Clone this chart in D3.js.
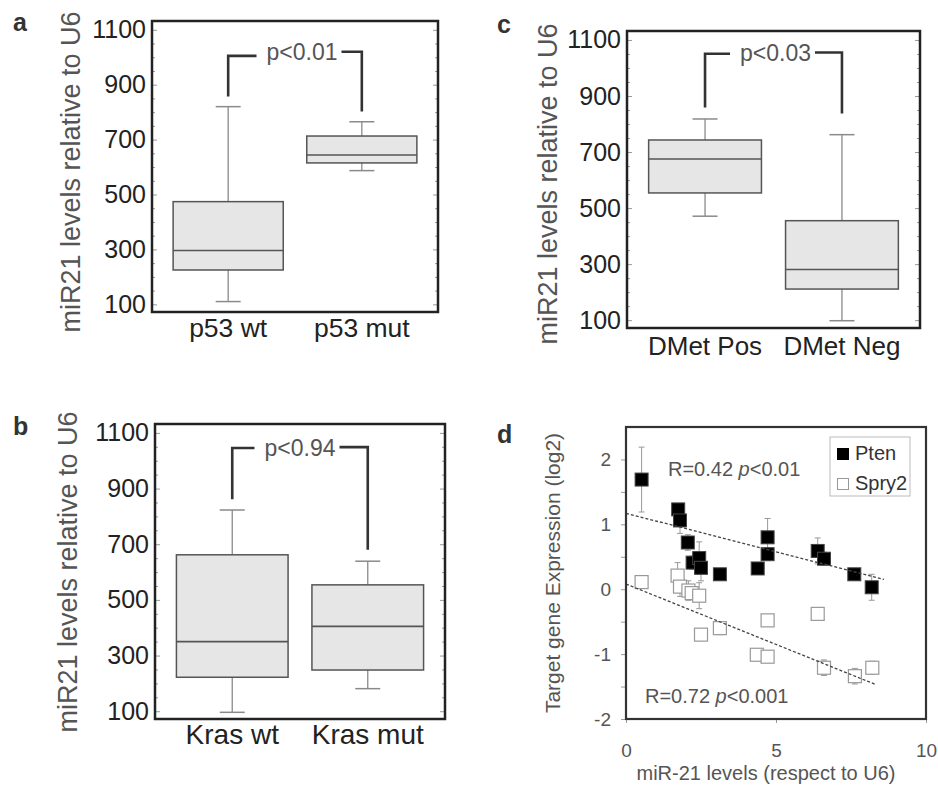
<!DOCTYPE html>
<html lang="en">
<head>
<meta charset="utf-8">
<title>miR21 panels</title>
<script src="https://cdnjs.cloudflare.com/ajax/libs/d3/7.8.5/d3.min.js"></script>
<style>
  body { margin: 0; background: #fff; }
  svg { display: block; font-family: "Liberation Sans", Arial, sans-serif; }
  .panel-letter { font-weight: bold; font-size: 25px; fill: #333; }
  .ylab { fill: #555; font-size: 27px; }
  .cat { fill: #222; }
  .pval { fill: #555; font-size: 23px; }
  .tick text { fill: #222; font-size: 25px; }
</style>
</head>
<body>
<svg id="chart" width="938" height="787"></svg>
<script>
// box data: [min, q1, median, q3, max]
var catsA = ["p53 wt", "p53 mut"];
var boxA = [[110, 225, 296, 474, 820], [587, 615, 644, 713, 765]];
var bracketA = [1005, 857, 1020, 802]; // left top, left bottom, right top, right bottom
var pA = "p<0.01";

var catsB = ["Kras wt", "Kras mut"];
var boxB = [[96, 222, 350, 662, 823], [181, 248, 405, 554, 639]];
var bracketB = [1046, 862, 1049, 680];
var pB = "p<0.94";

var catsC = ["DMet Pos", "DMet Neg"];
var boxC = [[471, 554, 675, 743, 818], [98, 211, 281, 455, 762]];
var bracketC = [1051, 859, 1055, 838];
var pC = "p<0.03";

var majorTicks = [100, 300, 500, 700, 900, 1100];
var minorTicks = d3.range(150, 1100, 50).filter(function(v) { return (v - 100) % 200 != 0; });

// panel d
var ptenX = [0.52, 1.74, 1.8, 2.06, 2.22, 2.44, 2.5, 3.13, 4.39, 4.72, 4.72, 6.39, 6.6, 7.61, 8.19];
var ptenY = [1.69, 1.23, 1.06, 0.72, 0.41, 0.48, 0.33, 0.23, 0.32, 0.80, 0.54, 0.59, 0.47, 0.23, 0.03];
var ptenErr = [0.5, 0.08, 0.2, 0.12, 0.1, 0.25, 0.2, 0.05, 0.05, 0.29, 0.1, 0.2, 0.1, 0.08, 0.2];
var spryX = [0.52, 1.72, 1.8, 2.08, 2.19, 2.44, 2.5, 3.13, 4.36, 4.72, 4.72, 6.39, 6.6, 7.63, 8.21];
var spryY = [0.11, 0.21, 0.04, -0.02, -0.06, -0.10, -0.70, -0.60, -1.01, -1.04, -0.48, -0.38, -1.21, -1.34, -1.21];
var spryErr = [0.05, 0.2, 0.15, 0.15, 0.1, 0.2, 0.05, 0.1, 0.05, 0.05, 0.05, 0.05, 0.12, 0.12, 0.1];
var ptenFit = [[0, 1.17], [8.6, 0.15]];
var spryFit = [[0, 0.08], [8.33, -1.47]];
var dTicksY = d3.range(-2, 2.01, 0.5);
var dTicksX = [0, 5, 10];

var svg = d3.select("#chart");

drawBoxPanel({letter: "a", lx: 13, ly: 31, x0: 152, x1: 438, y0: 21, y1: 312,
  cats: catsA, boxes: boxA, bracket: bracketA, p: pA, textDx: 7,
  catSize: 26.5, catY: 337, ylabX: 80, ylabY: 172});
drawBoxPanel({letter: "b", lx: 13, ly: 435, x0: 155, x1: 445, y0: 424, y1: 719,
  cats: catsB, boxes: boxB, bracket: bracketB, p: pB, textDx: 0,
  catSize: 28, catY: 744, ylabX: 77, ylabY: 572});
drawBoxPanel({letter: "c", lx: 497, ly: 33, x0: 627, x1: 920, y0: 31, y1: 328,
  cats: catsC, boxes: boxC, bracket: bracketC, p: pC, textDx: 2,
  catSize: 26, catY: 355, ylabX: 557, ylabY: 184});
drawScatter();

function drawBoxPanel(c) {
  var g = svg.append("g");
  var y = d3.scaleLinear().domain([72, 1132]).range([c.y1, c.y0]);
  var x = d3.scalePoint().domain(c.cats).range([c.x0, c.x1]).padding(0.57);
  var bw = (c.x1 - c.x0) * 0.385;
  var cap = 25;

  // ticks inside the frame, both sides
  g.append("g").attr("transform", "translate(" + c.x0 + ",0)")
    .call(d3.axisLeft(y).tickValues(majorTicks).tickSize(-5).tickPadding(6).tickFormat(d3.format("d")))
    .call(styleAxis);
  g.append("g").attr("transform", "translate(" + c.x0 + ",0)")
    .call(d3.axisLeft(y).tickValues(minorTicks).tickSize(-3).tickFormat(""))
    .call(styleAxis);
  g.append("g").attr("transform", "translate(" + c.x1 + ",0)")
    .call(d3.axisRight(y).tickValues(majorTicks).tickSize(-5).tickFormat(""))
    .call(styleAxis);
  g.append("g").attr("transform", "translate(" + c.x1 + ",0)")
    .call(d3.axisRight(y).tickValues(minorTicks).tickSize(-3).tickFormat(""))
    .call(styleAxis);

  var b = g.selectAll(".box").data(c.boxes).enter().append("g").attr("class", "box");
  b.append("line")
    .attr("x1", function(d, i) { return x(c.cats[i]); })
    .attr("x2", function(d, i) { return x(c.cats[i]); })
    .attr("y1", function(d) { return y(d[4]); })
    .attr("y2", function(d) { return y(d[0]); })
    .attr("stroke", "#8a8a8a").attr("stroke-width", 1.3);
  [0, 4].forEach(function(k) {
    b.append("line")
      .attr("x1", function(d, i) { return x(c.cats[i]) - cap / 2; })
      .attr("x2", function(d, i) { return x(c.cats[i]) + cap / 2; })
      .attr("y1", function(d) { return y(d[k]); })
      .attr("y2", function(d) { return y(d[k]); })
      .attr("stroke", "#8a8a8a").attr("stroke-width", 1.5);
  });
  b.append("rect")
    .attr("x", function(d, i) { return x(c.cats[i]) - bw / 2; })
    .attr("y", function(d) { return y(d[3]); })
    .attr("width", bw)
    .attr("height", function(d) { return y(d[1]) - y(d[3]); })
    .attr("fill", "#e6e6e6").attr("stroke", "#555").attr("stroke-width", 1.5);
  b.append("line")
    .attr("x1", function(d, i) { return x(c.cats[i]) - bw / 2; })
    .attr("x2", function(d, i) { return x(c.cats[i]) + bw / 2; })
    .attr("y1", function(d) { return y(d[2]); })
    .attr("y2", function(d) { return y(d[2]); })
    .attr("stroke", "#555").attr("stroke-width", 1.6);

  g.append("rect")
    .attr("x", c.x0).attr("y", c.y0)
    .attr("width", c.x1 - c.x0).attr("height", c.y1 - c.y0)
    .attr("fill", "none").attr("stroke", "#222").attr("stroke-width", 2.5);

  // significance bracket
  var xl = x(c.cats[0]), xr = x(c.cats[1]);
  var t = g.append("text").attr("class", "pval")
    .attr("x", (xl + xr) / 2 + c.textDx)
    .attr("y", y(Math.max(c.bracket[0], c.bracket[2])) + 8.5)
    .attr("text-anchor", "middle")
    .text(c.p);
  var tw = t.node().getComputedTextLength();
  var tx = (xl + xr) / 2 + c.textDx;
  var br = d3.path();
  br.moveTo(xl, y(c.bracket[1]));
  br.lineTo(xl, y(c.bracket[0]));
  br.lineTo(tx - tw / 2 - 10, y(c.bracket[0]));
  br.moveTo(tx + tw / 2 + 4, y(c.bracket[2]));
  br.lineTo(xr, y(c.bracket[2]));
  br.lineTo(xr, y(c.bracket[3]));
  g.append("path").attr("d", br.toString())
    .attr("fill", "none").attr("stroke", "#333").attr("stroke-width", 2.6);

  g.selectAll(".cat").data(c.cats).enter().append("text")
    .attr("class", "cat")
    .attr("x", function(d) { return x(d); })
    .attr("y", c.catY)
    .attr("text-anchor", "middle")
    .attr("font-size", c.catSize)
    .text(function(d) { return d; });

  g.append("text").attr("class", "ylab")
    .attr("transform", "translate(" + c.ylabX + "," + c.ylabY + ") rotate(-90)")
    .attr("text-anchor", "middle")
    .text("miR21 levels relative to U6");

  g.append("text").attr("class", "panel-letter")
    .attr("x", c.lx).attr("y", c.ly).text(c.letter);
}

function styleAxis(sel) {
  sel.select(".domain").remove();
  sel.selectAll(".tick line").attr("stroke", "#999");
  sel.attr("font-family", null).attr("font-size", null);
}

function drawScatter() {
  var g = svg.append("g").attr("class", "dpanel");
  var x = d3.scaleLinear().domain([0, 10]).range([626, 926]);
  var y = d3.scaleLinear().domain([-2, 2.5]).range([719, 427]);
  var s = 13;

  g.append("g").attr("transform", "translate(626,0)")
    .call(d3.axisLeft(y).tickValues(dTicksY).tickSize(5).tickPadding(10)
      .tickFormat(function(v) { return Number.isInteger(v) ? v : ""; }))
    .call(styleAxis);
  g.append("g").attr("transform", "translate(0,719)")
    .call(d3.axisBottom(x).tickValues(dTicksX).tickSize(4).tickPadding(21))
    .call(styleAxis);
  g.selectAll(".tick text").style("font-size", "19px").style("fill", "#555");

  var pten = ptenX.map(function(v, i) { return {x: v, y: ptenY[i], e: ptenErr[i]}; });
  var spry = spryX.map(function(v, i) { return {x: v, y: spryY[i], e: spryErr[i]}; });

  [spry, pten].forEach(function(set) {
    var eb = g.append("g").selectAll("g").data(set).enter().append("g");
    eb.append("line")
      .attr("x1", function(d) { return x(d.x); }).attr("x2", function(d) { return x(d.x); })
      .attr("y1", function(d) { return y(d.y + d.e); }).attr("y2", function(d) { return y(d.y - d.e); })
      .attr("stroke", "#999").attr("stroke-width", 1);
    [1, -1].forEach(function(sg) {
      eb.append("line")
        .attr("x1", function(d) { return x(d.x) - 3; }).attr("x2", function(d) { return x(d.x) + 3; })
        .attr("y1", function(d) { return y(d.y + sg * d.e); }).attr("y2", function(d) { return y(d.y + sg * d.e); })
        .attr("stroke", "#999").attr("stroke-width", 1);
    });
  });

  g.append("g").selectAll("rect").data(spry).enter().append("rect")
    .attr("x", function(d) { return x(d.x) - s / 2; })
    .attr("y", function(d) { return y(d.y) - s / 2; })
    .attr("width", s).attr("height", s)
    .attr("fill", "#fff").attr("stroke", "#999").attr("stroke-width", 1.2);
  g.append("g").selectAll("rect").data(pten).enter().append("rect")
    .attr("x", function(d) { return x(d.x) - s / 2; })
    .attr("y", function(d) { return y(d.y) - s / 2; })
    .attr("width", s).attr("height", s)
    .attr("fill", "#000").attr("stroke", "#444").attr("stroke-width", 1);

  var line = d3.line().x(function(d) { return x(d[0]); }).y(function(d) { return y(d[1]); });
  [ptenFit, spryFit].forEach(function(f) {
    g.append("path").attr("d", line(f))
      .attr("fill", "none").attr("stroke", "#444").attr("stroke-width", 1.3)
      .attr("stroke-dasharray", "3,2");
  });

  g.append("rect")
    .attr("x", 626).attr("y", 427).attr("width", 300).attr("height", 292)
    .attr("fill", "none").attr("stroke", "#333").attr("stroke-width", 2.2);

  // legend
  var lg = g.append("g").attr("transform", "translate(830,437)");
  lg.append("rect").attr("width", 80).attr("height", 59)
    .attr("fill", "#fff").attr("stroke", "#bbb").attr("stroke-width", 1);
  lg.append("rect").attr("x", 7).attr("y", 11).attr("width", 12).attr("height", 12).attr("fill", "#000");
  lg.append("rect").attr("x", 7.5).attr("y", 41.5).attr("width", 11).attr("height", 11)
    .attr("fill", "#fff").attr("stroke", "#999");
  lg.append("text").attr("x", 25).attr("y", 23).attr("font-size", 20).attr("fill", "#333").text("Pten");
  lg.append("text").attr("x", 25).attr("y", 53).attr("font-size", 20).attr("fill", "#333").text("Spry2");

  var t1 = g.append("text").attr("x", 668).attr("y", 476).attr("font-size", 20).attr("fill", "#555");
  t1.append("tspan").text("R=0.42 ");
  t1.append("tspan").attr("font-style", "italic").text("p");
  t1.append("tspan").text("<0.01");
  var t2 = g.append("text").attr("x", 645).attr("y", 703).attr("font-size", 20).attr("fill", "#555");
  t2.append("tspan").text("R=0.72 ");
  t2.append("tspan").attr("font-style", "italic").text("p");
  t2.append("tspan").text("<0.001");

  g.append("text")
    .attr("transform", "translate(560,573) rotate(-90)")
    .attr("text-anchor", "middle").attr("font-size", 21).attr("fill", "#555")
    .text("Target gene Expression (log2)");
  g.append("text")
    .attr("x", 766).attr("y", 780)
    .attr("text-anchor", "middle").attr("font-size", 20).attr("fill", "#555")
    .text("miR-21 levels (respect to U6)");

  g.append("text").attr("class", "panel-letter").attr("x", 497).attr("y", 443).text("d");
}
</script>
</body>
</html>
